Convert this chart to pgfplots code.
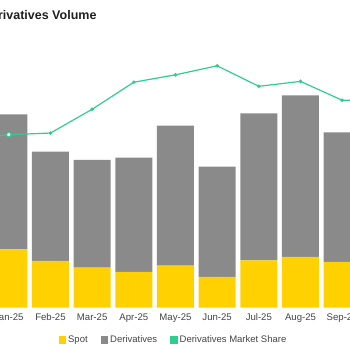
\documentclass[border=0pt]{standalone}
\usepackage{pgfplots}
\pgfplotsset{compat=1.18}
\usepackage{fontspec}
\setmainfont{Liberation Sans}
\definecolor{spot}{HTML}{FFD100}
\definecolor{deriv}{HTML}{8A8A8A}
\definecolor{share}{HTML}{2ECF8E}
\definecolor{lbl}{HTML}{444444}
\pgfplotsset{sqleg/.style={legend image code/.code={\fill[##1] (0pt,-3.75pt) rectangle (7.5pt,3.75pt);}}}
\begin{document}
\begin{tikzpicture}
\begin{axis}[
  at={(0pt,42.3pt)}, anchor=south west,
  scale only axis, width=350pt, height=250pt,
  xmin=-0.2112, xmax=8.188, ymin=0, ymax=250,
  ybar stacked, bar width=37pt,
  axis y line=none, axis x line*=bottom, x axis line style={draw=none},
  xtick={0,...,8},
  xticklabels={Jan-25,Feb-25,Mar-25,Apr-25,May-25,Jun-25,Jul-25,Aug-25,Sep-25},
  major tick length=0pt,
  xticklabel style={font=\fontsize{9.6}{11}\selectfont, text=lbl, yshift=-2.5pt},
  legend style={at={(0.4957,-0.129)}, anchor=center, legend columns=3,
    draw=none, fill=none, font=\fontsize{9.5}{11}\selectfont, text=lbl,
    /tikz/every even column/.append style={column sep=11pt}},
  legend cell align=left,
]
\addplot[fill=spot, draw=none, sqleg]
  coordinates {(0,58.4) (1,46.7) (2,40.0) (3,35.7) (4,42.0) (5,30.7) (6,47.4) (7,50.7) (8,45.7)};
\addplot[fill=deriv, draw=none, sqleg]
  coordinates {(0,135.0) (1,109.3) (2,107.7) (3,114.3) (4,140.0) (5,110.3) (6,147.0) (7,161.7) (8,129.7)};
\addlegendimage{fill=share, draw=none, sqleg}
\legend{Spot, Derivatives, Derivatives Market Share}
\end{axis}
\begin{axis}[
  at={(0pt,42.3pt)}, anchor=south west,
  scale only axis, width=350pt, height=250pt,
  xmin=-0.2112, xmax=8.188, ymin=48.70, ymax=79.19,
  hide axis,
]
\addplot[share, line width=1.2pt, mark=*, mark size=1.1pt]
  coordinates {(-1,69.4) (0,69.8) (1,70.0) (2,72.9) (3,76.2) (4,77.1) (5,78.2) (6,75.7) (7,76.3) (8,74.0) (9,74.0)};
\addplot[only marks, mark=*, mark size=2.2pt, mark options={fill=white, draw=share, line width=1pt}]
  coordinates {(0,69.8)};
\end{axis}
\node[anchor=base east, font=\fontsize{12.5}{15}\selectfont\bfseries, text=black!88] at (100pt,330pt) {Spot vs Derivatives Volume};
\pgfresetboundingbox
\path[use as bounding box] (0,0) rectangle (350pt,350pt);
\end{tikzpicture}
\end{document}
